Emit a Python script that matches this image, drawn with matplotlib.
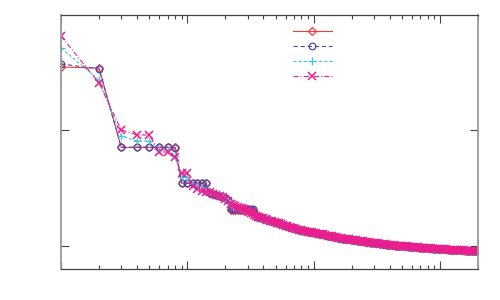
import matplotlib
matplotlib.use("Agg")
import matplotlib.pyplot as plt
from matplotlib.ticker import LogLocator, NullFormatter, NullLocator

plt.rcParams['lines.scale_dashes'] = False

# ---- data (rank 1..36 read individually, then tail) ----
head_x = list(range(1, 37))

red_head = [0.349, 0.342, 0.0707, 0.0707, 0.0707, 0.0707, 0.0707, 0.0707,
            0.0349, 0.0349, 0.0349, 0.0349, 0.0349, 0.0349,
            0.0286, 0.0280, 0.0275, 0.0272, 0.0266, 0.0258, 0.0250,
            0.0206, 0.0206, 0.0206, 0.0206, 0.0206, 0.0206, 0.0206, 0.0206,
            0.0206, 0.0206, 0.0206, 0.0206, 0.0190, 0.0180, 0.0177]

blue_head = [0.371, 0.336, 0.0712, 0.0712, 0.0712, 0.0712, 0.0712, 0.0700,
             0.0349, 0.0349, 0.0349, 0.0349, 0.0349, 0.0349,
             0.0284, 0.0279, 0.0275, 0.0271, 0.0265, 0.0257, 0.0249,
             0.0208, 0.0208, 0.0208, 0.0208, 0.0208, 0.0208, 0.0208, 0.0208,
             0.0208, 0.0208, 0.0208, 0.0207, 0.0192, 0.0180, 0.0177]

cyan_head = [0.509, 0.270, 0.0888, 0.0804, 0.0804, 0.0672, 0.0672, 0.0600,
             0.0393, 0.0393, 0.0340, 0.0330, 0.0312, 0.0302,
             0.0290, 0.0282, 0.0274, 0.0268, 0.0262, 0.0254, 0.0245,
             0.0226, 0.0222, 0.0219, 0.0216, 0.0213, 0.0210, 0.0207, 0.0204,
             0.0201, 0.0198, 0.0195, 0.0192, 0.0186, 0.0181, 0.0177]

mag_head = [0.646, 0.254, 0.100, 0.0906, 0.0906, 0.0646, 0.0646, 0.0580,
            0.0426, 0.0426, 0.0330, 0.0310, 0.0300, 0.0295,
            0.0290, 0.0283, 0.0276, 0.0269, 0.0262, 0.0253, 0.0244,
            0.0228, 0.0224, 0.0221, 0.0217, 0.0214, 0.0211, 0.0208, 0.0204,
            0.0200, 0.0197, 0.0194, 0.0191, 0.0186, 0.0181, 0.0177]

tail_x = [37, 38, 40, 42, 43, 45, 47, 49, 51, 53, 55, 57, 60, 62, 65, 68, 70,
          73, 76, 79, 83, 86, 90, 93, 97, 101, 105, 110, 114, 119, 124, 129,
          134, 139, 145, 151, 157, 164, 170, 177, 185, 192, 200, 208, 217, 226,
          235, 245, 255, 265, 276, 287, 299, 311, 324, 337, 351, 365, 380, 396,
          412, 429, 447, 465, 484, 504, 525, 546, 569, 592, 616, 641, 668, 695,
          724, 753, 784, 816, 850, 885, 921, 959, 998, 1039, 1081, 1126, 1172,
          1220, 1270, 1322, 1376, 1432, 1491, 1552, 1616, 1682, 1751, 1823,
          1898, 1976]
tail_y = [0.0177, 0.0175, 0.0173, 0.0171, 0.0169, 0.0165, 0.0163, 0.0161,
          0.0159, 0.0157, 0.0155, 0.0152, 0.0150, 0.0148, 0.0146, 0.0144,
          0.0142, 0.0140, 0.0138, 0.0137, 0.0136, 0.0135, 0.0133, 0.0132,
          0.0131, 0.0130, 0.0129, 0.0128, 0.0127, 0.0126, 0.0124, 0.0123,
          0.0122, 0.0121, 0.0120, 0.0119, 0.0118, 0.0117, 0.0116, 0.0115,
          0.0115, 0.0114, 0.0113, 0.0113, 0.0112, 0.0111, 0.0111, 0.0110,
          0.0109, 0.0109, 0.0108, 0.0107, 0.0107, 0.0106, 0.0106, 0.0105,
          0.0104, 0.0104, 0.0103, 0.0103, 0.0102, 0.0102, 0.0101, 0.0101,
          0.0101, 0.0100, 0.0100, 0.00995, 0.0099, 0.00985, 0.0098, 0.0098,
          0.00975, 0.0097, 0.00968, 0.00965, 0.0096, 0.00958, 0.00955, 0.00952,
          0.0095, 0.00947, 0.00944, 0.00941, 0.00938, 0.00936, 0.00933, 0.0093,
          0.00928, 0.00925, 0.00922, 0.0092, 0.00918, 0.00916, 0.00914,
          0.00912, 0.0091, 0.00908, 0.00906, 0.00904]

colors = ['#ef3b3b', '#4a4aa8', '#40c4ec', '#ec1c8c']
markers = ['D', 'o', '+', 'x']
msizes = [4.0, 4.8, 6.0, 5.6]
mews = [0.9, 0.9, 0.9, 1.1]
styles = ['-', (0, (3.1, 2.0)), (0, (2.2, 1.5)), (0, (3.6, 1.5, 0.8, 1.5))]
heads = [red_head, blue_head, cyan_head, mag_head]

fig = plt.figure(figsize=(5, 3), dpi=100)
ax = fig.add_axes([0.122, 0.1033, 0.834, 0.8467])

handles = []
for hy, c, m, ms, mw, ls in zip(heads, colors, markers, msizes, mews, styles):
    xs = head_x + tail_x
    ys = hy + tail_y
    ln, = ax.plot(xs, ys, color=c, linestyle=ls, linewidth=0.8,
                  marker=m, markersize=ms, markerfacecolor='none',
                  markeredgecolor=c, markeredgewidth=mw)
    handles.append(ln)

ax.set_xscale('log')
ax.set_yscale('log')
ax.set_xlim(1, 2000)
ax.set_ylim(10 ** -2.198, 10 ** -0.009)

ax.xaxis.set_major_locator(LogLocator(base=10, numticks=10))
ax.xaxis.set_minor_locator(LogLocator(base=10, subs=range(2, 10), numticks=20))
ax.yaxis.set_major_locator(LogLocator(base=10, numticks=10))
ax.yaxis.set_minor_locator(NullLocator())
ax.xaxis.set_major_formatter(NullFormatter())
ax.xaxis.set_minor_formatter(NullFormatter())
ax.yaxis.set_major_formatter(NullFormatter())

ax.tick_params(which='both', direction='in', top=True, right=True,
               color='#444444', width=0.8)
ax.tick_params(which='major', length=6)
ax.tick_params(which='minor', length=3)

for s in ['top', 'bottom']:
    ax.spines[s].set_color('#444444')
    ax.spines[s].set_linewidth(0.9)
for s in ['left', 'right']:
    ax.spines[s].set_color('#999999')
    ax.spines[s].set_linewidth(1.3)

leg = ax.legend(handles, [' ', ' ', ' ', ' '], loc='upper left',
                bbox_to_anchor=(0.545, 0.97), frameon=False, fontsize=8,
                handlelength=3.5, numpoints=1, labelspacing=0.45,
                handletextpad=0.2, borderaxespad=0.0)

fig.savefig('out.png', dpi=100)
